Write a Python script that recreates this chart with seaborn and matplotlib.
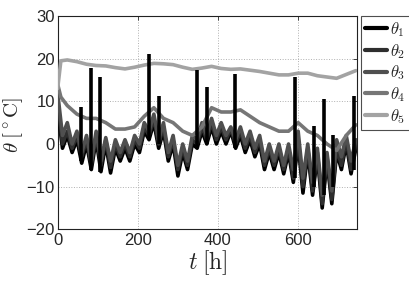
import numpy as np
import pandas as pd
import matplotlib
matplotlib.use("Agg")
import matplotlib.pyplot as plt
import seaborn as sns

# ---- data ----
t_fast = list(range(0, 745, 12))
theta1 = [8, -1, 2, -2, 1, -4.5, 0, -6, 1, -6.5, 0, -6.8, -1, -4, -1, -4, 0, -2, 3, 1,
          5, -1, 3, -4, 0, -7.5, -2, -6, 0, -1, 3, 0, 4, 0, 3, 0, 3, -1, 2, -2,
          1, -3, 0, -6, -2, -6, -2, -7, -2, -9, 0, -11.5, -2, -12, -3, -15, -4, -14, -2, -6,
          0, -7, -1]
theta2 = [10, 0, 3, -1, 2, -3, 1, -5, 2, -5, 1, -5.5, 0, -3, 0, -3, 1, -1, 4, 2,
          6, 0, 4, -3, 1, -6, -1, -5, 1, 0, 4, 1, 5, 1, 4, 1, 3.5, 0, 3, -1,
          2, -2, 1, -5, -1, -5, -1, -6, -1, -8, 1, -10, -1, -11, -2, -14, -3, -13, -1, -5,
          1, -6, 0]
theta3 = [12, 2, 5, 0, 3, -2, 2, -4, 3, -4, 1.5, -4, 1, -2, 1, -2, 2, 0, 5, 3,
          7, 1, 5, -2, 2, -5, 0, -4, 2, 1, 5, 2, 6, 2, 5, 2, 4, 1, 4, 0,
          3, -1, 2, -4, 0, -4, 0, -5, 0, -6, 3, -8, 0, -9, -1, -12, -2, -11, 1, -3,
          2, -4, 1]
t_slow = [0, 8] + list(range(24, 745, 24))
theta4 = [14, 11, 9, 7, 6, 6, 5, 3.5, 3.5, 4, 6.5, 8.5, 6, 5, 3, 2, 4, 8.5, 7.5, 7.5,
          8, 6.5, 5, 4, 3, 3, 5, 3, 2, 0, -1.5, 2, 4.5]
theta5 = [13, 19.5, 19.7, 19.3, 18.7, 18.4, 18.3, 17.9, 17.6, 18.0, 18.5, 18.9, 18.8, 18.6,
          18.0, 17.5, 17.8, 18.2, 17.7, 17.5, 17.6, 17.3, 17.0, 16.6, 16.2, 16.2, 16.6,
          16.6, 16.0, 15.7, 15.4, 16.3, 17.2]
# narrow spikes of theta1
spike_t = [58, 82, 106, 227, 253, 347, 372, 443, 591, 639, 664, 686, 739]
spike_lo = [-4, -6, -6.5, 1, 0, -1, 0, -1, -8, -10, -12, -10, -6]
spike_hi = [8.7, 17.7, 15.7, 21.2, 11.3, 17.3, 13.4, 16.4, 15.6, 4.3, 10.5, 2.0, 11.2]

labels = [r'$\theta_1$', r'$\theta_2$', r'$\theta_3$', r'$\theta_4$', r'$\theta_5$']
colors = ['#000000', '#2e2e2e', '#4f4f4f', '#767676', '#a3a3a3']
x_ticks = [0, 200, 400, 600]
y_ticks = [-20, -10, 0, 10, 20, 30]

sns.set_style('white')
plt.rcParams['font.family'] = ['Liberation Sans', 'DejaVu Sans']
plt.rcParams['mathtext.fontset'] = 'cm'
plt.rcParams['xtick.direction'] = 'in'
plt.rcParams['ytick.direction'] = 'in'

fig = plt.figure(figsize=(4.09, 2.81), dpi=100)
ax = fig.add_axes([0.141, 0.184, 0.733, 0.759])

series = [(t_fast, theta1), (t_fast, theta2), (t_fast, theta3), (t_slow, theta4), (t_slow, theta5)]
lw = 2.6
for i, ((tt, vv), lab, c) in enumerate(zip(series, labels, colors)):
    df = pd.DataFrame({'t': tt, 'v': vv})
    sns.lineplot(data=df, x='t', y='v', color=c, linewidth=lw, label=lab, ax=ax,
                 zorder=3 + i, estimator=None)
ax.vlines(spike_t, spike_lo, spike_hi, colors=colors[0], linewidth=lw, zorder=9)

ax.set_xlim(0, 748)
ax.set_ylim(-20, 30)
ax.set_xticks(x_ticks)
ax.set_yticks(y_ticks)
ax.tick_params(axis='both', labelsize=12, length=3, width=0.6, top=True, right=True)
ax.tick_params(axis='x', pad=3)
ax.tick_params(axis='y', pad=2)
ax.grid(True, linestyle=':', color='#b0b0b0', linewidth=0.7)
for s in ax.spines.values():
    s.set_color('#222222')
    s.set_linewidth(0.8)
ax.set_xlabel(r'$t\;[\mathrm{h}]$', fontsize=17, labelpad=0)
ax.set_ylabel(r'$\theta\;[^\circ\mathrm{C}]$', fontsize=15)
ax.yaxis.set_label_coords(-0.11, 0.49)

leg = ax.legend(loc='upper left', bbox_to_anchor=(1.012, 1.0), borderaxespad=0,
                fontsize=12, handlelength=1.3, handletextpad=0.2, labelspacing=0.17,
                borderpad=0.25, frameon=True, fancybox=False)
leg.get_frame().set_edgecolor('#222222')
leg.get_frame().set_linewidth(0.8)
for h in leg.get_lines():
    h.set_linewidth(3)

fig.savefig('out.png', dpi=100)
